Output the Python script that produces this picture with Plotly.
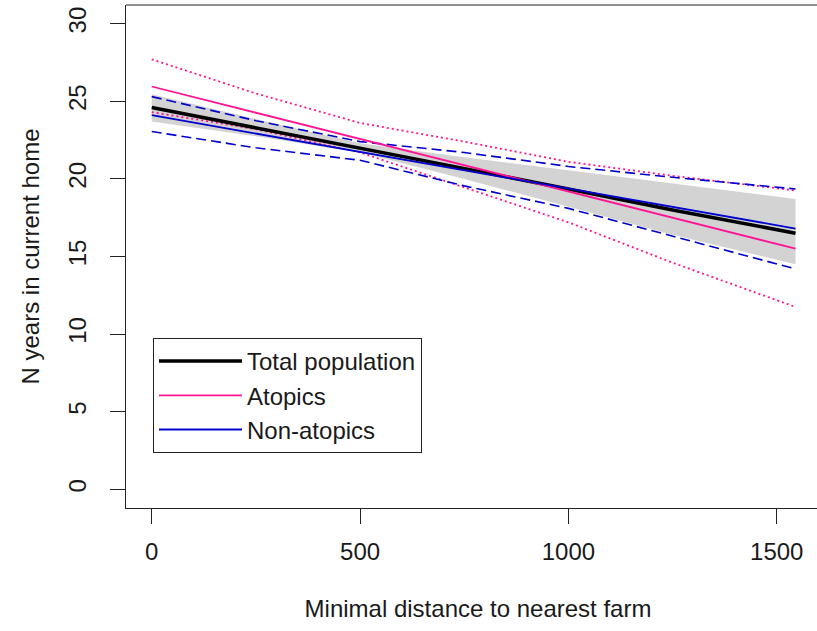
import plotly.graph_objects as go

# ---- data ----
distance = [0, 250, 500, 750, 1000, 1250, 1545]

total_fit = [24.6, 23.3, 22.0, 20.7, 19.35, 18.0, 16.5]
total_lo = [23.7, 22.75, 21.7, 20.0, 18.2, 16.4, 14.5]
total_hi = [25.45, 23.85, 22.3, 21.4, 20.55, 19.7, 18.7]

atopic_fit = [25.95, 24.26, 22.57, 20.88, 19.19, 17.5, 15.5]
atopic_hi = [27.7, 25.5, 23.6, 22.4, 21.1, 20.2, 19.25]
atopic_lo = [24.3, 23.2, 21.7, 19.45, 17.2, 14.6, 11.75]

nonatopic_fit = [24.1, 22.92, 21.74, 20.56, 19.38, 18.19, 16.8]
nonatopic_hi = [25.3, 23.75, 22.4, 21.7, 20.8, 20.1, 19.35]
nonatopic_lo = [23.05, 22.0, 21.2, 19.55, 18.1, 16.3, 14.2]

series_names = ["Total population", "Atopics", "Non-atopics"]
x_ticks = [0, 500, 1000, 1500]
y_ticks = [0, 5, 10, 15, 20, 25, 30]
x_title = "Minimal distance to nearest farm"
y_title = "N years in current home"

# ---- styles ----
BLACK = "#000000"
PINK = "#FF1493"
BLUE = "#0000CD"
GREY = "#D3D3D3"
FRAME = "#222222"
FONT = "Liberation Sans, Arial, sans-serif"

fig = go.Figure()

# grey confidence band for total population
fig.add_trace(go.Scatter(x=distance, y=total_lo, mode="lines",
                         line=dict(width=0, color=GREY), showlegend=False,
                         hoverinfo="skip"))
fig.add_trace(go.Scatter(x=distance, y=total_hi, mode="lines",
                         line=dict(width=0, color=GREY), fill="tonexty",
                         fillcolor=GREY, showlegend=False, hoverinfo="skip"))

# atopics CI (dotted)
for ys in (atopic_hi, atopic_lo):
    fig.add_trace(go.Scatter(x=distance, y=ys, mode="lines",
                             line=dict(color=PINK, width=1.8, dash="2px,3px"),
                             showlegend=False))
# non-atopics CI (dashed)
for ys in (nonatopic_hi, nonatopic_lo):
    fig.add_trace(go.Scatter(x=distance, y=ys, mode="lines",
                             line=dict(color=BLUE, width=1.6, dash="10px,5px"),
                             showlegend=False))

# fitted lines
fig.add_trace(go.Scatter(x=distance, y=total_fit, mode="lines",
                         name=series_names[0],
                         line=dict(color=BLACK, width=3.5)))
fig.add_trace(go.Scatter(x=distance, y=atopic_fit, mode="lines",
                         name=series_names[1],
                         line=dict(color=PINK, width=1.8)))
fig.add_trace(go.Scatter(x=distance, y=nonatopic_fit, mode="lines",
                         name=series_names[2],
                         line=dict(color=BLUE, width=1.8)))

# The original frame extends past the right edge of the picture, so the
# figure is made a little wider than the 817 px window and the overflow is
# hidden.
FIG_W = 830
fig.update_layout(
    width=FIG_W, height=631,
    margin=dict(l=126, r=0, t=5, b=123, autoexpand=False),
    paper_bgcolor="white", plot_bgcolor="white",
    font=dict(family=FONT, size=24, color="#1a1a1a"),
    legend=dict(x=27 / (FIG_W - 126), y=0.338, xanchor="left", yanchor="top",
                traceorder="normal", itemwidth=83,
                bgcolor="white", bordercolor=FRAME, borderwidth=1,
                font=dict(family=FONT, size=24, color="#1a1a1a"),
                tracegroupgap=0),
    # top edge of the plot frame
    shapes=[dict(type="line", xref="paper", yref="paper",
                 x0=0, x1=1, y0=1, y1=1,
                 line=dict(color=FRAME, width=1))],
)
fig.update_xaxes(range=[-61.8, -61.8 + (FIG_W - 126) / 0.41667],
                 tickmode="array", tickvals=x_ticks,
                 ticktext=[str(v) for v in x_ticks],
                 showgrid=False, zeroline=False, automargin=False,
                 showline=True, linecolor=FRAME, linewidth=1, mirror=False,
                 ticks="outside", ticklen=15, tickcolor=FRAME,
                 ticklabelstandoff=7,
                 title=dict(text=x_title, standoff=36,
                            font=dict(family=FONT, size=24)))
fig.update_yaxes(range=[-1.2, 31.2], tickmode="array", tickvals=y_ticks,
                 ticktext=[str(v) for v in y_ticks], tickangle=-90,
                 showgrid=False, zeroline=False, automargin=False,
                 showline=True, linecolor=FRAME, linewidth=1, mirror=False,
                 ticks="outside", ticklen=15, tickcolor=FRAME,
                 ticklabelstandoff=14,
                 title=dict(text=y_title, standoff=18,
                            font=dict(family=FONT, size=24)))

fig.write_html(
    "out.html",
    config={"displayModeBar": False},
    post_script="document.body.style.margin='0';"
                "document.body.style.overflow='hidden';",
)
